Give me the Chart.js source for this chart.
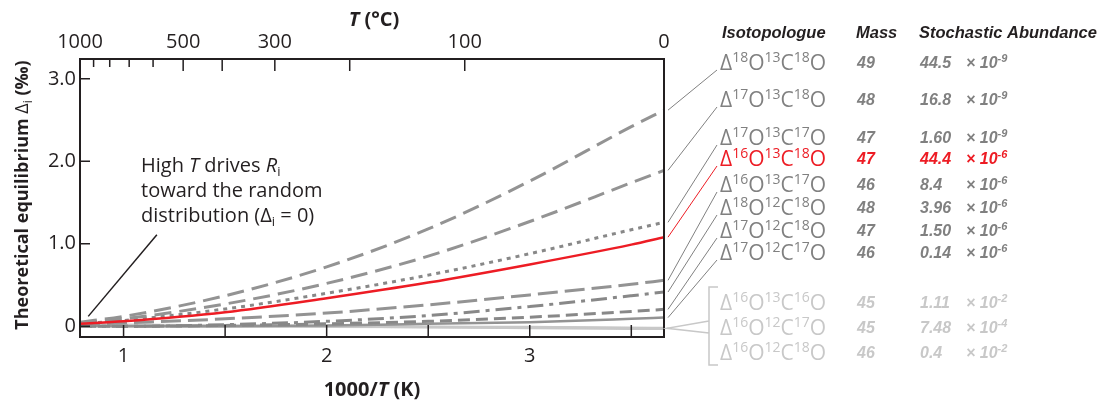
<!DOCTYPE html>
<html>
<head>
<meta charset="utf-8">
<script src="https://cdn.jsdelivr.net/npm/chart.js@4"></script>
<style>
  html, body { margin: 0; padding: 0; background: #fff; }
</style>
</head>
<body>
<canvas id="myChart" width="1105" height="401"></canvas>
<script>
// 1000/T (K) sample positions
var invT = [0.7855, 1.0, 1.5, 2.0, 2.5, 3.0, 3.5, 3.661];

// Delta values (per mil)
var d18_13_18 = [0.05, 0.12, 0.37, 0.72, 1.18, 1.76, 2.42, 2.62];
var d17_13_18 = [0.04, 0.09, 0.27, 0.52, 0.85, 1.27, 1.74, 1.89];
var d17_13_17 = [0.03, 0.07, 0.21, 0.40, 0.62, 0.88, 1.17, 1.26];
var d16_13_18 = [0.03, 0.06, 0.17, 0.34, 0.53, 0.75, 0.99, 1.08];
var d16_13_17 = [0.02, 0.04, 0.09, 0.16, 0.26, 0.38, 0.51, 0.557];
var d18_12_18 = [0.0, 0.0, 0.02, 0.06, 0.13, 0.24, 0.37, 0.415];
var d17_12_18 = [0.0, 0.0, 0.01, 0.03, 0.06, 0.11, 0.18, 0.205];
var d17_12_17 = [0.0, 0.0, 0.0, 0.01, 0.03, 0.05, 0.09, 0.105];
var d16_13_16 = [0.02, 0.01, 0.0, 0.0, -0.01, -0.01, -0.02, -0.02];
var d16_12_17 = [0.01, 0.0, 0.0, -0.005, -0.01, -0.015, -0.02, -0.025];
var d16_12_18 = [0.03, 0.02, 0.01, 0.0, -0.01, -0.02, -0.03, -0.03];

// axis ticks
var tempC = [1000, 900, 800, 700, 600, 500, 400, 300, 200, 100, 0];
var tempCLabels = ['1000', '', '', '', '', '500', '', '300', '', '100', '0'];
var bottomTicks = [1, 1.5, 2, 2.5, 3, 3.5];
var bottomLabels = ['1', '', '2', '', '3', ''];
var yTicks = [0, 1, 2, 3];
var yLabels = ['0', '1.0', '2.0', '3.0'];

// table on the right
var rowIso = [[18,13,18],[17,13,18],[17,13,17],[16,13,18],[16,13,17],[18,12,18],[17,12,18],[17,12,17],[16,13,16],[16,12,17],[16,12,18]];
var rowMass = ['49','48','47','47','46','48','47','46','45','45','46'];
var rowAbund = ['44.5','16.8','1.60','44.4','8.4','3.96','1.50','0.14','1.11','7.48','0.4'];
var rowExp = ['-9','-9','-9','-6','-6','-6','-6','-6','-2','-4','-2'];

var GRAY = '#939393', RED = '#ed1c24', LIGHT = '#c8c8c8', INK = '#231f20';
var TXTGRAY = '#808080';

function pts(arr) {
  return arr.map(function (v, i) { return { x: invT[i], y: v }; });
}
function line(data, color, dash, width, order) {
  return {
    data: pts(data), borderColor: color, borderDash: dash, borderWidth: width,
    pointRadius: 0, fill: false, cubicInterpolationMode: 'monotone', order: order
  };
}

var series = [d18_13_18, d17_13_18, d17_13_17, d16_13_18, d16_13_17, d18_12_18, d17_12_18, d17_12_17];

var datasets = [
  line(d18_13_18, GRAY, [17, 8], 3, 1),
  line(d17_13_18, GRAY, [17, 8], 3, 1),
  line(d17_13_17, '#888888', [4, 5], 3, 1),
  line(d16_13_18, RED, [], 2.5, 0),
  line(d16_13_17, GRAY, [20, 7], 3, 1),
  line(d18_12_18, '#888888', [16, 6, 4, 6], 3, 1),
  line(d17_12_18, '#888888', [12, 6], 3, 1),
  line(d17_12_17, GRAY, [], 2.5, 1),
  line(d16_13_16, LIGHT, [], 2.5, 2),
  line(d16_12_17, LIGHT, [], 2.5, 2),
  line(d16_12_18, LIGHT, [], 2.5, 2)
];

function rich(ctx, parts, x, y, measureOnly) {
  var w = 0;
  parts.forEach(function (p) {
    ctx.font = p.f;
    if (!measureOnly) ctx.fillText(p.t, x + w, y + (p.dy || 0));
    w += ctx.measureText(p.t).width;
  });
  return w;
}

var extras = {
  id: 'extras',
  afterDraw: function (chart) {
    var ctx = chart.ctx, a = chart.chartArea;
    var xs = chart.scales.x, ys = chart.scales.y;
    ctx.save();
    ctx.strokeStyle = INK;
    ctx.fillStyle = INK;
    ctx.lineWidth = 2;
    ctx.strokeRect(a.left, a.top, a.right - a.left, a.bottom - a.top);

    // inner ticks
    ctx.lineWidth = 1.5;
    ctx.beginPath();
    bottomTicks.forEach(function (v) {
      var px = xs.getPixelForValue(v);
      ctx.moveTo(px, a.bottom); ctx.lineTo(px, a.bottom - 12);
    });
    tempC.forEach(function (c) {
      var px = xs.getPixelForValue(1000 / (c + 273.15));
      var len = (c >= 600 && c < 1000) ? 8 : 12;
      ctx.moveTo(px, a.top); ctx.lineTo(px, a.top + len);
    });
    yTicks.forEach(function (v) {
      var py = ys.getPixelForValue(v);
      ctx.moveTo(a.left, py); ctx.lineTo(a.left + 10, py);
    });
    ctx.stroke();

    // axis titles
    ctx.textBaseline = 'alphabetic';
    var B = 'bold 20px "Open Sans"', BI = 'italic bold 20px "Open Sans"';
    var top = [{ t: 'T', f: BI }, { t: ' (°C)', f: B }];
    var w = rich(ctx, top, 0, 0, true);
    rich(ctx, top, 374 - w / 2, 26);
    var bot = [{ t: '1000/', f: B }, { t: 'T', f: BI }, { t: ' (K)', f: B }];
    w = rich(ctx, bot, 0, 0, true);
    rich(ctx, bot, (a.left + a.right) / 2 - w / 2, 396);

    var yt = [
      { t: 'Theoretical equilibrium ', f: 'bold 18px "Open Sans"' },
      { t: 'Δ', f: '18px "Open Sans"' },
      { t: 'i', f: '12px "Open Sans"', dy: 4 },
      { t: ' (‰)', f: 'bold 18px "Open Sans"' }
    ];
    ctx.save();
    ctx.translate(28, (a.top + a.bottom) / 2 - 3);
    ctx.rotate(-Math.PI / 2);
    w = rich(ctx, yt, 0, 0, true);
    rich(ctx, yt, -w / 2, 0);
    ctx.restore();

    // annotation
    var R = '20px "Open Sans"', RI = 'italic 20px "Open Sans"', S = '13px "Open Sans"';
    rich(ctx, [{ t: 'High ', f: R }, { t: 'T', f: RI }, { t: ' drives ', f: R }, { t: 'R', f: RI }, { t: 'i', f: S, dy: 4 }], 141, 172);
    rich(ctx, [{ t: 'toward the random', f: R }], 141, 197);
    rich(ctx, [{ t: 'distribution (Δ', f: R }, { t: 'i', f: S, dy: 4 }, { t: ' = 0)', f: R }], 141, 222);
    ctx.lineWidth = 1.5;
    ctx.beginPath();
    ctx.moveTo(xs.getPixelForValue(0.826), ys.getPixelForValue(0.12));
    ctx.lineTo(xs.getPixelForValue(1.164), ys.getPixelForValue(1.11));
    ctx.stroke();

    // table header
    ctx.font = 'italic bold 16.5px "Liberation Sans"';
    ctx.fillText('Isotopologue', 722, 38);
    ctx.fillText('Mass', 856, 38);
    ctx.fillText('Stochastic Abundance', 919, 38);

    var rowY = [62, 99, 137, 158, 184, 207, 230, 252, 302, 327, 352];
    var big = '21px "Open Sans"', sup = '14px "Open Sans"';
    var num = 'italic bold 16px "Liberation Sans"', numSup = 'italic bold 11px "Liberation Sans"';
    rowIso.forEach(function (iso, i) {
      var col = i === 3 ? RED : (i >= 8 ? LIGHT : TXTGRAY);
      ctx.fillStyle = col;
      var by = rowY[i] + 8;
      rich(ctx, [
        { t: 'Δ', f: big }, { t: String(iso[0]), f: sup, dy: -8 }, { t: 'O', f: big },
        { t: String(iso[1]), f: sup, dy: -8 }, { t: 'C', f: big },
        { t: String(iso[2]), f: sup, dy: -8 }, { t: 'O', f: big }
      ], 720, by);
      var ny = rowY[i] + 6;
      ctx.font = num;
      ctx.fillText(rowMass[i], 857, ny);
      ctx.fillText(rowAbund[i], 920, ny);
      rich(ctx, [{ t: '× 10', f: num }, { t: rowExp[i], f: numSup, dy: -6 }], 966, ny);
    });

    // connectors from curve ends to labels
    ctx.lineWidth = 1;
    series.forEach(function (s, i) {
      ctx.strokeStyle = i === 3 ? RED : TXTGRAY;
      ctx.beginPath();
      ctx.moveTo(a.right + 4, ys.getPixelForValue(s[s.length - 1]));
      ctx.lineTo(717, rowY[i] + 8);
      ctx.stroke();
    });

    // bracket for near-zero isotopologues
    ctx.strokeStyle = LIGHT;
    ctx.lineWidth = 1.5;
    var y0 = ys.getPixelForValue(d16_12_17[d16_12_17.length - 1]);
    ctx.beginPath();
    ctx.moveTo(718, 287); ctx.lineTo(709, 287); ctx.lineTo(709, 365); ctx.lineTo(718, 365);
    ctx.moveTo(709, 321); ctx.lineTo(a.right + 3, y0); ctx.lineTo(709, 333);
    ctx.stroke();

    ctx.restore();
  }
};

var tickFont = { family: 'Open Sans', size: 20 };

var ctx = document.getElementById('myChart').getContext('2d');
var myChart = new Chart(ctx, {
  type: 'line',
  data: { datasets: datasets },
  options: {
    responsive: false,
    animation: false,
    layout: { padding: { left: 0, right: 441, top: 0, bottom: 0 } },
    plugins: { legend: { display: false }, tooltip: { enabled: false } },
    scales: {
      x: {
        type: 'linear', position: 'bottom',
        min: 1000 / 1273.15, max: 1000 / 273.15,
        grid: { display: false, drawTicks: false }, border: { display: false },
        afterBuildTicks: function (s) { s.ticks = bottomTicks.map(function (v) { return { value: v }; }); },
        afterFit: function (s) { s.height = 64; },
        ticks: {
          autoSkip: false, maxRotation: 0, padding: 7, color: INK, font: tickFont,
          callback: function (v, i) { return bottomLabels[i]; }
        }
      },
      xTop: {
        type: 'linear', position: 'top',
        min: 1000 / 1273.15, max: 1000 / 273.15,
        grid: { display: false, drawTicks: false }, border: { display: false },
        afterBuildTicks: function (s) { s.ticks = tempC.map(function (c) { return { value: 1000 / (c + 273.15) }; }); },
        afterFit: function (s) { s.height = 59; },
        ticks: {
          autoSkip: false, maxRotation: 0, padding: 5, color: INK, font: tickFont,
          callback: function (v, i) { return tempCLabels[i]; }
        }
      },
      y: {
        type: 'linear', position: 'left',
        min: -0.13, max: 3.24,
        grid: { display: false, drawTicks: false }, border: { display: false },
        afterBuildTicks: function (s) { s.ticks = yTicks.map(function (v) { return { value: v }; }); },
        afterFit: function (s) { s.width = 80; },
        ticks: {
          autoSkip: false, padding: 4, color: INK, font: tickFont,
          callback: function (v, i) { return yLabels[i]; }
        }
      }
    }
  },
  plugins: [extras]
});
</script>
</body>
</html>
